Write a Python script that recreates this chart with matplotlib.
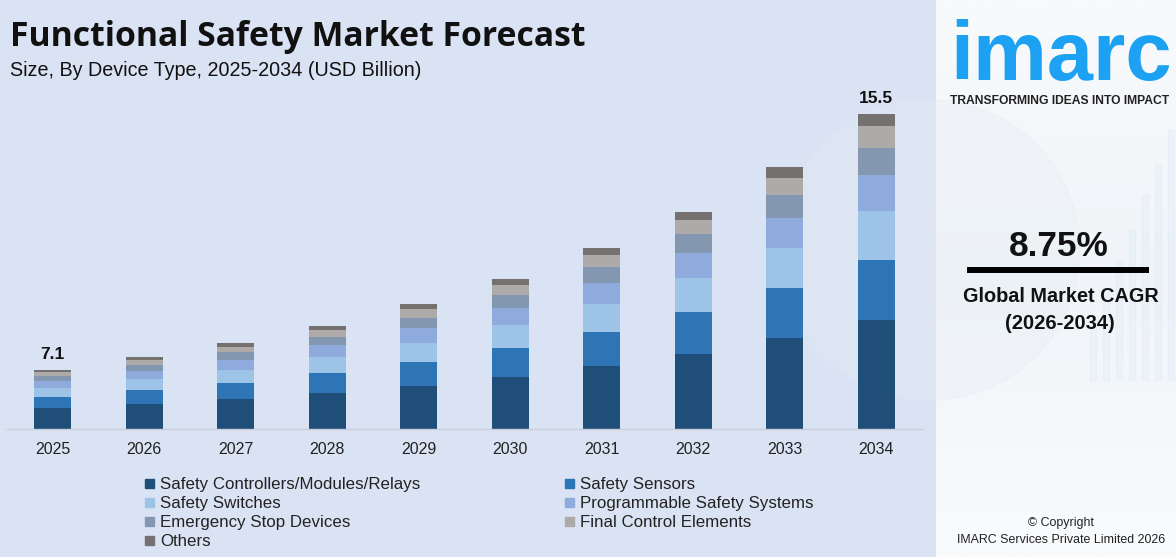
import matplotlib
matplotlib.use("Agg")
import matplotlib.pyplot as plt
from matplotlib.patches import Rectangle
import numpy as np

# ---------------- data ----------------
years = ["2025", "2026", "2027", "2028", "2029", "2030", "2031", "2032", "2033", "2034"]
controllers = [5.85, 5.98, 6.15, 6.35, 6.58, 6.87, 7.23, 7.63, 8.15, 8.74]
sensors = [0.36, 0.46, 0.52, 0.66, 0.79, 0.95, 1.12, 1.38, 1.64, 1.97]
switches = [0.30, 0.36, 0.43, 0.52, 0.62, 0.75, 0.92, 1.12, 1.31, 1.61]
programmable = [0.23, 0.26, 0.33, 0.39, 0.49, 0.56, 0.69, 0.82, 0.98, 1.18]
emergency = [0.16, 0.20, 0.26, 0.26, 0.33, 0.43, 0.52, 0.62, 0.75, 0.89]
final_control = [0.13, 0.16, 0.16, 0.23, 0.30, 0.33, 0.39, 0.46, 0.56, 0.72]
others = [0.07, 0.10, 0.13, 0.13, 0.16, 0.20, 0.23, 0.26, 0.36, 0.39]

series_names = ["Safety Controllers/Modules/Relays", "Safety Sensors", "Safety Switches",
                "Programmable Safety Systems", "Emergency Stop Devices",
                "Final Control Elements", "Others"]
series_values = [controllers, sensors, switches, programmable, emergency, final_control, others]
series_colors = ["#1f4e79", "#2e75b6", "#9dc3e6", "#8faadc", "#8497b0", "#aeaaaa", "#767171"]
labeled_years = ["2025", "2034"]

# ---------------- figure ----------------
W, H = 1176, 557
fig = plt.figure(figsize=(W / 100, H / 100), dpi=100)
FONT = "Liberation Sans"


def fx(px):
    return px / W


def fy(py):
    return 1 - py / H


bg = fig.add_axes([0, 0, 1, 1])
bg.set_xlim(0, W)
bg.set_ylim(H, 0)
bg.axis("off")
bg.add_patch(Rectangle((0, 0), 936, H, color="#dae3f3", zorder=0))
grad = np.linspace(0, 1, 256).reshape(-1, 1)
bg.imshow(grad, extent=(936, W, H, 0), cmap=matplotlib.colors.LinearSegmentedColormap.from_list(
    "g", ["#f8fafc", "#f0f4f8", "#fafbfd"]), aspect="auto", zorder=0)
# faint decorative background shapes on the right panel
for i, h in enumerate([60, 90, 120, 150, 185, 215, 250]):
    x0 = 1090 + i * 13
    bg.add_patch(Rectangle((x0, 380 - h), 6, h, color="#d8e7f5", alpha=0.25, zorder=0.5))
bg.add_patch(matplotlib.patches.Circle((930, 250), 150, color="#e6ecf3", alpha=0.3, zorder=0.4))

# ---------------- chart axes ----------------
y_start = 5.164
px_per_unit = 30.476
ax_top_px, ax_bot_px = 90, 429
ax = fig.add_axes([fx(7), fy(ax_bot_px), fx(922) - fx(7), fy(ax_top_px) - fy(ax_bot_px)])
ax.set_facecolor("none")
x = np.arange(len(years))
bottom = np.zeros(len(years))
for name, vals, col in zip(series_names, series_values, series_colors):
    ax.bar(x, vals, bottom=bottom, width=0.40, color=col, label=name, zorder=2)
    bottom += np.array(vals)

for i, yr in enumerate(years):
    if yr in labeled_years:
        ax.annotate(f"{bottom[i]:.1f}", (x[i], bottom[i]), xytext=(0, 8), textcoords="offset points",
                    ha="center", va="baseline", fontsize=12.5, fontweight="bold",
                    family=FONT, color="#111111")

ax.set_xlim(-0.5, len(years) - 0.5)
ax.set_ylim(y_start, y_start + (ax_bot_px - ax_top_px) / px_per_unit)
ax.set_xticks(x)
ax.set_xticklabels(years, fontsize=11.5, family=FONT, color="#222222")
ax.tick_params(axis="x", length=0, pad=9)
ax.set_yticks([])
for s in ["top", "left", "right"]:
    ax.spines[s].set_visible(False)
ax.spines["bottom"].set_color("#c9ced8")
ax.spines["bottom"].set_linewidth(1.0)

# ---------------- texts ----------------
fit_list = []

t = fig.text(fx(10), fy(46), "Functional Safety Market Forecast", fontsize=23, fontweight="bold",
             family="Open Sans", color="#111111", va="baseline", ha="left")
fit_list.append(([t], t, 577))
t = fig.text(fx(10), fy(76), "Size, By Device Type, 2025-2034 (USD Billion)", fontsize=13,
             family=FONT, color="#111111", va="baseline", ha="left")
fit_list.append(([t], t, 410))

col_x = [145, 565]
row_y = [483, 502, 521, 540]
leg_texts = []
for k, (name, col) in enumerate(zip(series_names, series_colors)):
    r, c = divmod(k, 2)
    xs, ys = col_x[c], row_y[r]
    bg.add_patch(Rectangle((xs, ys - 4.5), 9, 9, color=col, zorder=3))
    lt = bg.text(xs + 15, ys, name, fontsize=11.3, family=FONT, color="#222222",
                 va="center_baseline", ha="left", zorder=3)
    leg_texts.append(lt)
fit_list.append((leg_texts, leg_texts[0], 259))

t = bg.text(1061, 80, "imarc", fontsize=58, fontweight="bold", family=FONT, color="#1da1f2",
            ha="center", va="baseline", zorder=3)
fit_list.append(([t], t, 222))
t = bg.text(1060, 104, "TRANSFORMING IDEAS INTO IMPACT", fontsize=7.7, fontweight="bold",
            family=FONT, color="#222222", ha="center", va="baseline", zorder=3)
fit_list.append(([t], t, 220))
t = bg.text(1059, 256, "8.75%", fontsize=24, fontweight="bold", family=FONT, color="#111111",
            ha="center", va="baseline", zorder=3)
fit_list.append(([t], t, 100))
bg.plot([967, 1149], [270, 270], color="#000000", lw=4.3, solid_capstyle="butt", zorder=3)
t = bg.text(1061, 302, "Global Market CAGR", fontsize=14, fontweight="bold", family=FONT,
            color="#111111", ha="center", va="baseline", zorder=3)
fit_list.append(([t], t, 196))
t = bg.text(1060, 329, "(2026-2034)", fontsize=14, fontweight="bold", family=FONT,
            color="#111111", ha="center", va="baseline", zorder=3)
fit_list.append(([t], t, 110))
c1 = bg.text(1061, 526, "\u00a9 Copyright", fontsize=10, family=FONT, color="#222222",
             ha="center", va="baseline", zorder=3)
c2 = bg.text(1061, 543, "IMARC Services Private Limited 2026", fontsize=10, family=FONT,
             color="#222222", ha="center", va="baseline", zorder=3)
fit_list.append(([c1, c2], c2, 208))

# scale fonts so that text widths match the reference
fig.canvas.draw()
renderer = fig.canvas.get_renderer()
for group, ref_t, target in fit_list:
    w = ref_t.get_window_extent(renderer).width
    f = target / w
    for g in group:
        g.set_fontsize(g.get_fontsize() * f)

fig.savefig("out.png", dpi=100)
